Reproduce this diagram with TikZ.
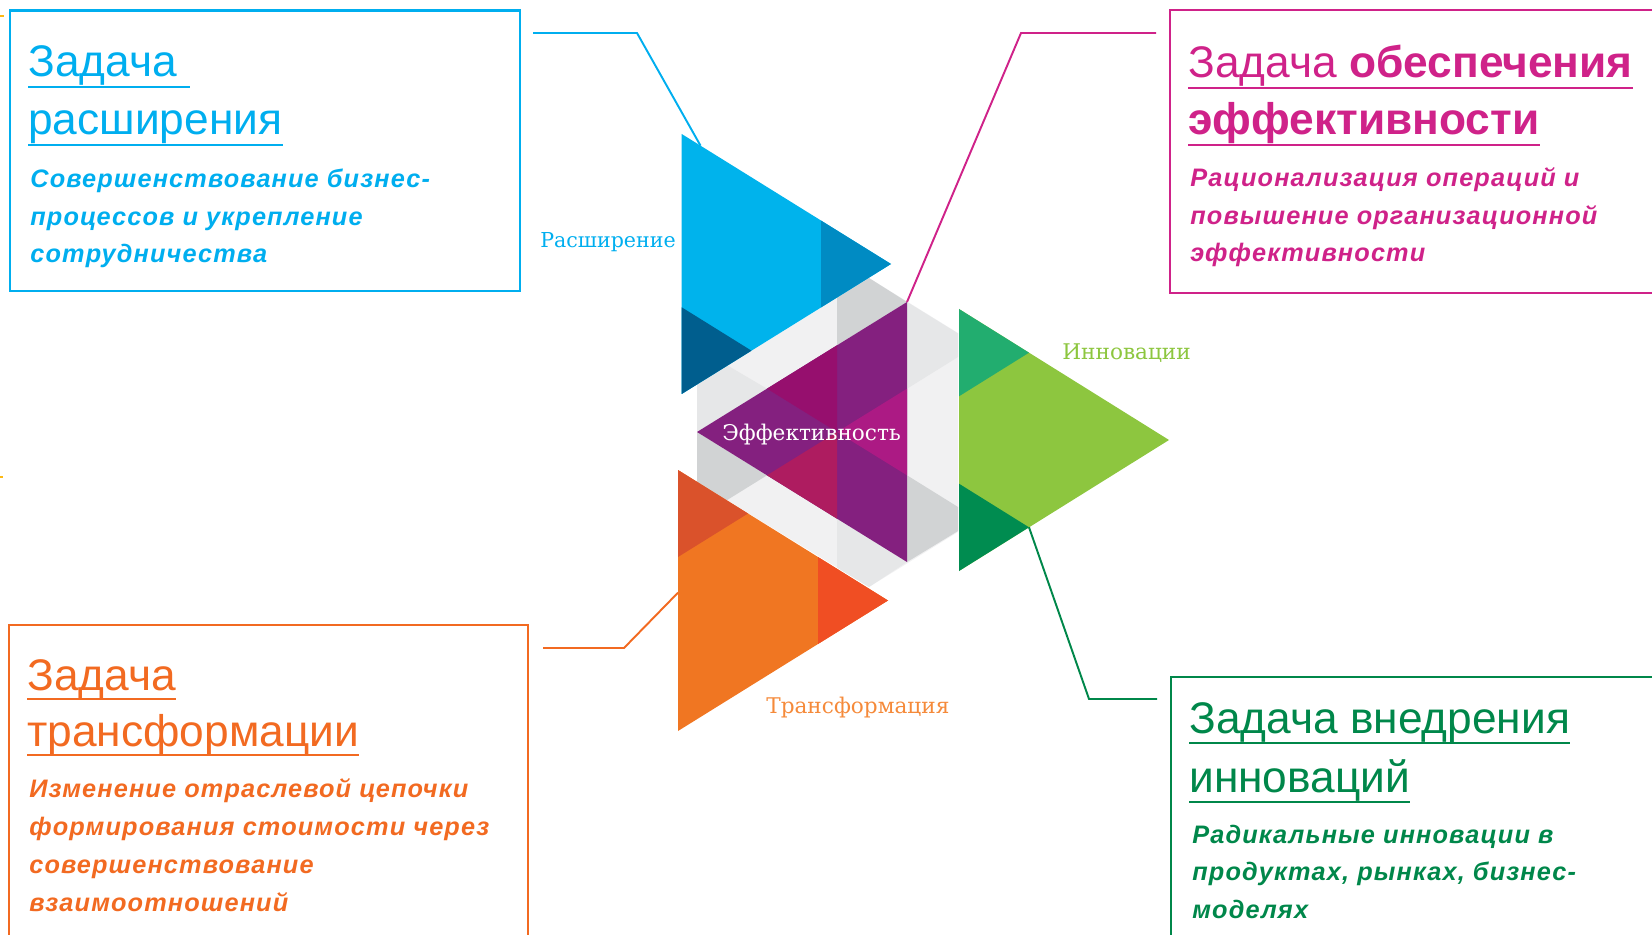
\documentclass[tikz,border=0pt]{standalone}
\usepackage{fontspec}
\setmainfont{Liberation Sans}
\newfontfamily\slabfont{DejaVu Serif}
\newfontfamily\spacedfont[LetterSpace=4.5]{Liberation Sans}
\usepackage{tikz}
\usetikzlibrary{arrows.meta, positioning, calc}
\definecolor{expandblue}{HTML}{00AEEF}
\definecolor{expandlight}{HTML}{00B3EC}
\definecolor{expanddark}{HTML}{008BC3}
\definecolor{expandnavy}{HTML}{005E8E}
\definecolor{effmagenta}{HTML}{CF2289}
\definecolor{effpurple}{HTML}{84207F}
\definecolor{effplum}{HTML}{960F6E}
\definecolor{effpink}{HTML}{AC1A84}
\definecolor{effcrimson}{HTML}{AE1C60}
\definecolor{innogreen}{HTML}{8DC63F}
\definecolor{innoteal}{HTML}{22AD6F}
\definecolor{innodark}{HTML}{008C50}
\definecolor{innotext}{HTML}{00874A}
\definecolor{transorange}{HTML}{F07622}
\definecolor{transrust}{HTML}{DA522B}
\definecolor{transred}{HTML}{F04E23}
\definecolor{transtext}{HTML}{F26A21}
\definecolor{translabel}{HTML}{F58A3A}
\definecolor{greylight}{HTML}{F1F1F2}
\definecolor{greymid}{HTML}{E6E7E8}
\definecolor{greydark}{HTML}{D1D3D4}
\definecolor{tickyellow}{HTML}{FDB913}

\begin{document}
\begin{tikzpicture}[x=0.02cm, y=-0.02cm,
    taskbox/.style={line width=1.4pt},
    leader/.style={line width=1.1pt},
    uline/.style={line width=1.7pt},
    title/.style={anchor=base west, inner sep=0pt, font=\fontsize{25.2}{30}\selectfont},
    subtext/.style={anchor=base west, inner sep=0pt, font=\spacedfont\fontsize{14.4}{17}\selectfont\bfseries\itshape},
    tag/.style={anchor=base west, inner sep=0pt, font=\slabfont\fontsize{12.3}{14}\selectfont}]
    \useasboundingbox (0,0) rectangle (1652,935);

    % ── grey backdrop ────────────────────────────────────────────────
    \fill[greylight] (697,384.5) -- (869,278) -- (958,333) -- (958,532)
        -- (869,587) -- (697,481.8) -- cycle;
    \fill[greydark] (837,297.4) -- (869,278) -- (907,302) -- (837,345.3) -- cycle;
    \fill[greymid] (907,302) -- (958,333.5) -- (958,357) -- (907,388.7) -- cycle;
    \fill[greydark] (907,475.3) -- (958,507) -- (958,531) -- (907,562) -- cycle;
    \fill[greymid] (837,518.7) -- (907,562) -- (869,587) -- (837,567.6) -- cycle;
    \fill[greymid] (697,432) -- (767,388.7) -- (726.7,365) -- (697,384.5) -- cycle;
    \fill[greydark] (697,432) -- (767,475.3) -- (726.7,500.3) -- (697,481.8) -- cycle;

    % ── Расширение (blue) ────────────────────────────────────────────
    \coordinate (btop) at (681.7,134);
    \coordinate (btip) at (891,264);
    \coordinate (bbot) at (681.7,394);
    \fill[expandlight] (btop) -- (btip) -- (bbot) -- cycle;
    \fill[expanddark] (821.2,220.7) -- (btip) -- (821.2,307.3) -- cycle;
    \fill[expandnavy] (681.7,307.3) -- (751.5,350.7) -- (bbot) -- cycle;

    % ── Эффективность (purple) ───────────────────────────────────────
    \coordinate (ptip) at (697,432);
    \coordinate (ptop) at (907,302);
    \coordinate (pbot) at (907,562);
    \fill[effpurple] (ptip) -- (ptop) -- (pbot) -- cycle;
    \fill[effplum] (837,345.3) -- (837,432) -- (767,388.7) -- cycle;
    \fill[effpink] (907,388.7) -- (907,475.3) -- (837,432) -- cycle;
    \fill[effcrimson] (837,432) -- (837,518.7) -- (767,475.3) -- cycle;

    % ── Трансформация (orange) ───────────────────────────────────────
    \coordinate (otop) at (678,470);
    \coordinate (otip) at (888,600.5);
    \coordinate (obot) at (678,731);
    \fill[transorange] (otop) -- (otip) -- (obot) -- cycle;
    \fill[transrust] (otop) -- (748,513.5) -- (678,557) -- cycle;
    \fill[transred] (818,557) -- (otip) -- (818,644) -- cycle;

    % ── Инновации (green) ────────────────────────────────────────────
    \coordinate (gtop) at (959,309);
    \coordinate (gtip) at (1169,440);
    \coordinate (gbot) at (959,571);
    \fill[innogreen] (gtop) -- (gtip) -- (gbot) -- cycle;
    \fill[innoteal] (gtop) -- (1029,352.7) -- (959,396.3) -- cycle;
    \fill[innodark] (959,483.7) -- (1029,527.3) -- (gbot) -- cycle;
    \coordinate (gnotch) at (1029,527.3);

    % ── triangle tags ────────────────────────────────────────────────
    \node[tag, expandblue, font=\slabfont\fontsize{11.7}{14}\selectfont] (tagexp) at (540,248) {Расширение};
    \node[tag, innogreen] (taginn) at (1062,360) {Инновации};
    \node[tag, translabel] (tagtra) at (766,713) {Трансформация};
    \node[tag, white] (tageff) at (722,440) {Эффективность};

    % ── (1) Задача расширения ────────────────────────────────────────
    \draw[taskbox, expandblue] (10,10.7) rectangle (520,291);
    \node[title, expandblue] (bt1) at (28,77) {Задача\ \null};
    \node[title, expandblue] (bt2) at (28,135) {расширения};
    \draw[uline, expandblue] ($(bt1.base west)+(0,10)$) -- ($(bt1.base east)+(0,10)$);
    \draw[uline, expandblue] ($(bt2.base west)+(0,10)$) -- ($(bt2.base east)+(0,10)$);
    \foreach \line [count=\i] in {Совершенствование бизнес-, процессов и укрепление, сотрудничества}
        \node[subtext, expandblue] (bsub\i) at (30,{188+37.5*(\i-1)}) {\line};
    \coordinate (bstart) at (533,33);
    \draw[leader, expandblue] (bstart) -- (637,33) -- ($(btop)!0.09!(btip)$);

    % ── (2) Задача обеспечения эффективности ─────────────────────────
    \draw[taskbox, effmagenta] (1170,10) rectangle (1700,293);
    \node[title, effmagenta] (mt1) at (1188,78) {Задача \textbf{обеспечения}};
    \node[title, effmagenta] (mt2) at (1188,135) {\textbf{эффективности}};
    \draw[uline, effmagenta] ($(mt1.base west)+(0,10)$) -- ($(mt1.base east)+(0,10)$);
    \draw[uline, effmagenta] ($(mt2.base west)+(0,10)$) -- ($(mt2.base east)+(0,10)$);
    \foreach \line [count=\i] in {Рационализация операций и, повышение организационной, эффективности}
        \node[subtext, effmagenta] (msub\i) at (1190,{187+37.5*(\i-1)}) {\line};
    \coordinate (mstart) at (1156,33);
    \draw[leader, effmagenta] (mstart) -- (1021,33) -- (ptop);

    % ── (3) Задача трансформации ─────────────────────────────────────
    \draw[taskbox, transtext] (9,625) rectangle (528,1000);
    \node[title, transtext] (ot1) at (27,690) {Задача};
    \node[title, transtext] (ot2) at (27,746) {трансформации};
    \draw[uline, transtext] ($(ot1.base west)+(0,9)$) -- ($(ot1.base east)+(0,9)$);
    \draw[uline, transtext] ($(ot2.base west)+(0,9)$) -- ($(ot2.base east)+(0,9)$);
    \foreach \line [count=\i] in {Изменение отраслевой цепочки, формирования стоимости через, совершенствование, взаимоотношений}
        \node[subtext, transtext] (osub\i) at (29,{797+38.3*(\i-1)}) {\line};
    \coordinate (ostart) at (543,648);
    \draw[leader, transtext] (ostart) -- (624,648) -- ($(otop)!0.47!(obot)$);

    % ── (4) Задача внедрения инноваций ───────────────────────────────
    \draw[taskbox, innotext] (1171,677) rectangle (1700,1000);
    \node[title, innotext] (gt1) at (1189,733) {Задача внедрения};
    \node[title, innotext] (gt2) at (1189,792) {инноваций};
    \draw[uline, innotext] ($(gt1.base west)+(0,10)$) -- ($(gt1.base east)+(0,10)$);
    \draw[uline, innotext] ($(gt2.base west)+(0,10)$) -- ($(gt2.base east)+(0,10)$);
    \foreach \line [count=\i] in {Радикальные инновации в, {продуктах, рынках, бизнес-}, моделях}
        \node[subtext, innotext] (gsub\i) at (1192,{843+37.5*(\i-1)}) {\line};
    \coordinate (gstart) at (1157,699);
    \draw[leader, innotext] (gnotch) -- (1089,699) -- (gstart);

    % stray ticks at the left edge
    \draw[tickyellow, line width=0.8pt] (0,16) -- (4,16);
    \draw[tickyellow, line width=0.8pt] (0,477) -- (3,477);
\end{tikzpicture}
\end{document}
